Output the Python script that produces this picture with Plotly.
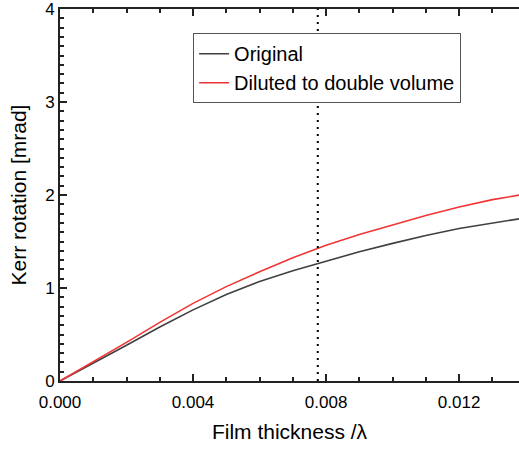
import plotly.graph_objects as go

# film thickness in units of wavelength
thickness = [0.000, 0.001, 0.002, 0.003, 0.004, 0.005, 0.006, 0.007,
             0.008, 0.009, 0.010, 0.011, 0.012, 0.013, 0.014]
kerr_original = [0.0, 0.19, 0.385, 0.58, 0.765, 0.93, 1.07, 1.185,
                 1.29, 1.39, 1.48, 1.565, 1.64, 1.70, 1.755]
kerr_diluted = [0.0, 0.205, 0.415, 0.63, 0.835, 1.015, 1.175, 1.325,
                1.46, 1.575, 1.68, 1.78, 1.87, 1.95, 2.01]
marker_thickness = 0.00775

FONT = "Liberation Sans, Arial, sans-serif"

fig = go.Figure()
fig.add_trace(go.Scatter(
    x=thickness, y=kerr_original, mode="lines", name="Original",
    line=dict(color="#404040", width=1.6),
))
fig.add_trace(go.Scatter(
    x=thickness, y=kerr_diluted, mode="lines", name="Diluted to double volume",
    line=dict(color="#f03535", width=1.6),
))
fig.add_shape(
    type="line", xref="x", yref="paper",
    x0=marker_thickness, x1=marker_thickness, y0=0, y1=1,
    line=dict(color="black", width=2, dash="2px,5px"),
)

fig.update_layout(
    width=519, height=450,
    margin=dict(l=60, r=0, t=9, b=69),
    plot_bgcolor="white", paper_bgcolor="white",
    font=dict(family=FONT, color="black", size=17),
    showlegend=True,
    legend=dict(
        x=0.29, y=0.935, xanchor="left", yanchor="top",
        bordercolor="#555555", borderwidth=1, bgcolor="white",
        font=dict(size=20), tracegroupgap=0,
    ),
    xaxis=dict(
        range=[0, 0.0138], dtick=0.004, tick0=0, tickformat=".3f",
        showgrid=False, zeroline=False,
        showline=True, linecolor="#222", linewidth=2, mirror="ticks",
        ticks="inside", ticklen=7, tickwidth=1.5, tickcolor="#222",
        minor=dict(dtick=0.001, ticks="inside", ticklen=4, tickcolor="#222"),
        ticklabelstandoff=5,
        title=dict(text="Film thickness /λ", font=dict(size=21), standoff=13),
        automargin=False,
    ),
    yaxis=dict(
        range=[0, 4], dtick=1, tick0=0,
        showgrid=False, zeroline=False,
        showline=True, linecolor="#222", linewidth=2,
        ticks="inside", ticklen=7, tickwidth=1.5, tickcolor="#222",
        minor=dict(dtick=0.1, ticks="inside", ticklen=4, tickcolor="#222"),
        ticklabeloverflow="allow",
        title=dict(text="Kerr rotation [mrad]", font=dict(size=21), standoff=13),
        automargin=False,
    ),
)

fig.write_html("out.html", config={"displayModeBar": False},
               post_script="document.body.style.margin='0';")
